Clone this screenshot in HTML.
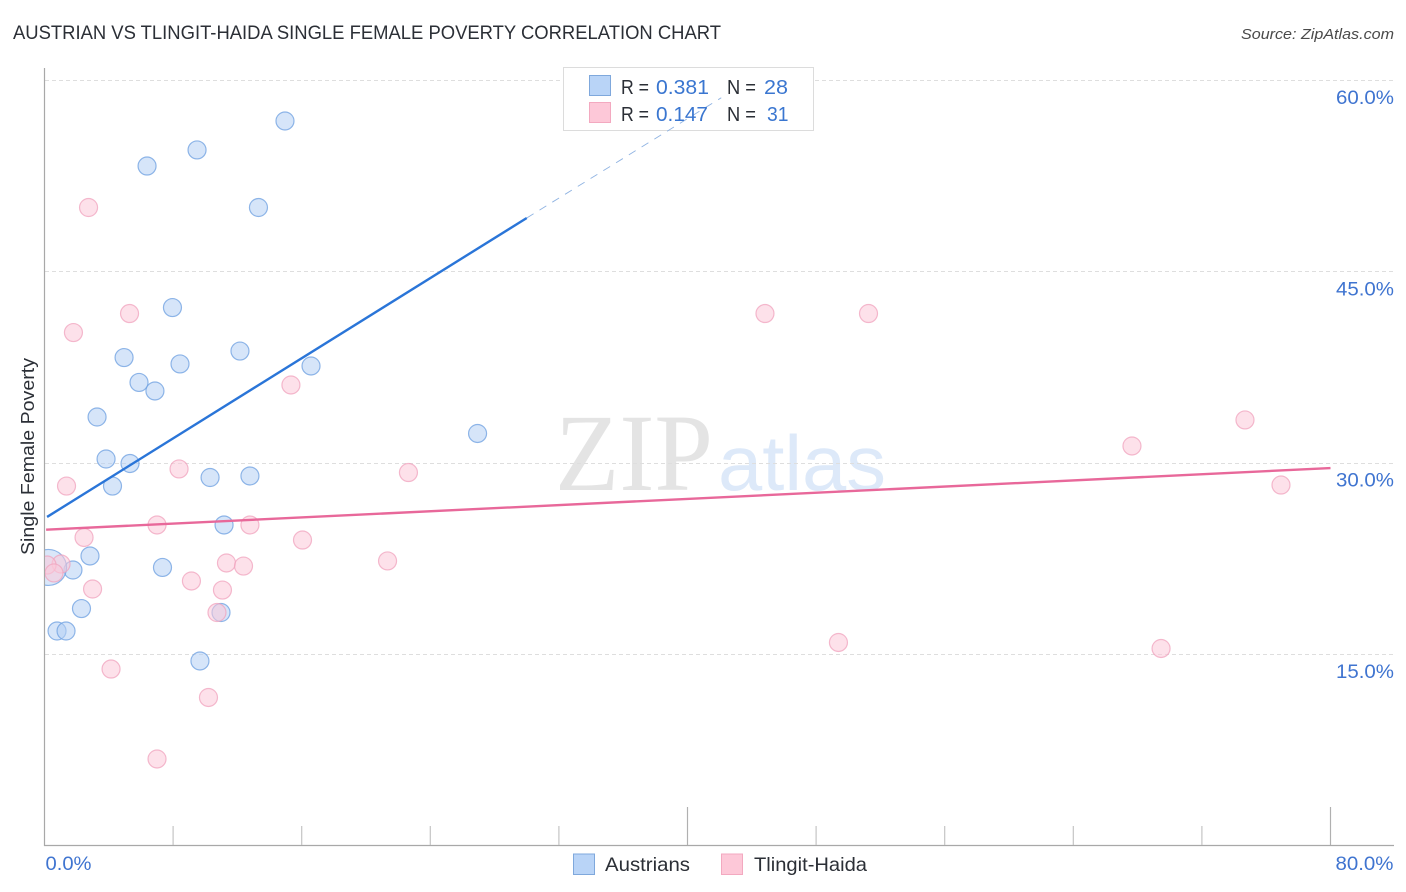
<!DOCTYPE html>
<html lang="en">
<head>
<meta charset="utf-8">
<title>Austrian vs Tlingit-Haida Single Female Poverty Correlation Chart</title>
<style>
html,body{margin:0;padding:0;background:#fff;}
svg{display:block;font-family:"Liberation Sans",sans-serif;}
</style>
</head>
<body>
<svg id="chart" xmlns="http://www.w3.org/2000/svg" width="1406" height="892" viewBox="0 0 1406 892">
  <rect x="0" y="0" width="1406" height="892" fill="#ffffff"/>
  <text x="555" y="490" font-family="'Liberation Serif',serif" font-size="110" fill="#e4e4e4" textLength="158" lengthAdjust="spacingAndGlyphs">ZIP</text>
  <text x="718" y="490" font-size="78" fill="#dde9f9" textLength="168" lengthAdjust="spacingAndGlyphs">atlas</text>
  <g id="grid"></g>
  <rect x="563.5" y="67.5" width="250" height="63" fill="#ffffff" stroke="#dcdcdc" stroke-width="1"/>
  <g id="axes"></g>
  <g id="points"></g>
  <g id="trends"></g>
  <g id="labels"></g>

  <text x="13" y="39" font-size="19" fill="#2b2f36" textLength="708" lengthAdjust="spacingAndGlyphs">AUSTRIAN VS TLINGIT-HAIDA SINGLE FEMALE POVERTY CORRELATION CHART</text>
  <text x="1394" y="39" font-size="15" font-style="italic" fill="#4a4a4a" text-anchor="end" textLength="153" lengthAdjust="spacingAndGlyphs">Source: ZipAtlas.com</text>
  <text transform="translate(34 555) rotate(-90)" font-size="18.5" fill="#2b2f36" textLength="197" lengthAdjust="spacingAndGlyphs">Single Female Poverty</text>

  <g font-size="20">
    <rect x="589.5" y="75.5" width="21" height="20" fill="#b9d4f7" stroke="#7fa8dc"/>
    <rect x="589.5" y="102.5" width="21" height="20" fill="#fdc8d8" stroke="#f3a9c0"/>
    <text x="621" y="94" fill="#2b2f36" textLength="28" lengthAdjust="spacingAndGlyphs">R =</text>
    <text x="656" y="94" fill="#3a76d0" textLength="53" lengthAdjust="spacingAndGlyphs">0.381</text>
    <text x="727" y="94" fill="#2b2f36" textLength="29" lengthAdjust="spacingAndGlyphs">N =</text>
    <text x="764" y="94" fill="#3a76d0" textLength="24" lengthAdjust="spacingAndGlyphs">28</text>
    <text x="621" y="121" fill="#2b2f36" textLength="28" lengthAdjust="spacingAndGlyphs">R =</text>
    <text x="656" y="121" fill="#3a76d0" textLength="52" lengthAdjust="spacingAndGlyphs">0.147</text>
    <text x="727" y="121" fill="#2b2f36" textLength="29" lengthAdjust="spacingAndGlyphs">N =</text>
    <text x="767" y="121" fill="#3a76d0" textLength="21.5" lengthAdjust="spacingAndGlyphs">31</text>
  </g>

  <g font-size="19.5" fill="#2b2f36">
    <rect x="573.5" y="854" width="21" height="20.5" fill="#b9d4f7" stroke="#7fa8dc"/>
    <text x="605" y="871" textLength="85" lengthAdjust="spacingAndGlyphs">Austrians</text>
    <rect x="721.5" y="854" width="21" height="20.5" fill="#fdc8d8" stroke="#f3a9c0"/>
    <text x="754" y="871" textLength="113" lengthAdjust="spacingAndGlyphs">Tlingit-Haida</text>
  </g>
</svg>
<script>
const austriansX = [14.96, 9.49, 6.38, 13.31, 7.96, 12.16, 4.95, 8.43, 16.58, 5.88, 6.87, 3.27, 26.94, 3.83, 5.32, 4.23, 10.30, 12.78, 11.17, 2.83, 7.34, 1.77, 2.30, 10.98, 0.78, 1.34, 9.67, 0.25];
const austriansY = [56.78, 54.51, 53.25, 50.00, 42.16, 38.75, 38.24, 37.74, 37.58, 36.29, 35.62, 33.58, 32.29, 30.29, 29.94, 28.17, 28.84, 28.96, 25.12, 22.69, 21.79, 21.59, 18.57, 18.26, 16.81, 16.81, 14.46, 21.79];
const austriansWeight = [1, 1, 1, 1, 1, 1, 1, 1, 1, 1, 1, 1, 1, 1, 1, 1, 1, 1, 1, 1, 1, 1, 1, 1, 1, 1, 1, 2];
const tlingitX = [2.74, 1.80, 5.29, 44.82, 51.26, 15.33, 74.68, 67.65, 8.37, 22.64, 1.37, 76.92, 7.00, 12.78, 2.46, 16.05, 21.34, 11.32, 12.38, 1.03, 0.16, 0.59, 9.14, 2.99, 11.07, 10.73, 49.39, 69.46, 4.14, 10.20, 7.00];
const tlingitY = [50.00, 40.20, 41.69, 41.69, 41.69, 36.09, 33.35, 31.31, 29.51, 29.23, 28.17, 28.25, 25.12, 25.12, 24.14, 23.94, 22.30, 22.14, 21.90, 22.06, 21.98, 21.36, 20.73, 20.10, 20.02, 18.26, 15.91, 15.44, 13.83, 11.60, 6.78];
const austriansTrendX = [0.16, 30.0, 42.1];
const austriansTrendY = [25.75, 49.18, 58.6];
const tlingitTrendX = [0.1, 80];
const tlingitTrendY = [24.75, 29.58];
const yTicks = [15, 30, 45, 60];
const yTickLabels = ["15.0%", "30.0%", "45.0%", "60.0%"];
const xTicks = [0, 8, 16, 24, 32, 40, 48, 56, 64, 72, 80];
const xEndTicks = [0, 80];
const xEndLabels = ["0.0%", "80.0%"];

const NS = "http://www.w3.org/2000/svg";
function xScale(v) { return 44.5 + v * 16.075; }
function yScale(v) { return 845.5 - v * 12.76; }
function make(parent, tag, attrs) {
  const el = document.createElementNS(NS, tag);
  for (const k in attrs) el.setAttribute(k, attrs[k]);
  document.getElementById(parent).appendChild(el);
  return el;
}

/* gridlines */
yTicks.forEach(function (t) {
  const el = make("grid", "line", { x1: 45, x2: 1394, y1: Math.round(yScale(t)) + 0.5, y2: Math.round(yScale(t)) + 0.5, stroke: "#dedede", "stroke-width": 1, "stroke-dasharray": "4 3" });
  
  
});

/* axes */
const yAxisLine = make("axes", "line", { x1: 44.5, x2: 44.5, y1: 68, y2: 846, stroke: "#a8a8a8", "stroke-width": 1.2 });


const xAxisLine = make("axes", "line", { x1: 44, x2: 1394, y1: 845.5, y2: 845.5, stroke: "#a8a8a8", "stroke-width": 1.2 });


xTicks.forEach(function (t) {
  const major = (t === 40 || t === 80);
  if (t === 0) return;
  const el = make("axes", "line", { x1: xScale(t), x2: xScale(t), y1: major ? 807 : 826, y2: 845, stroke: major ? "#b0b0b0" : "#c4c4c4", "stroke-width": 1.2 });
  
  
});

/* points */
function drawPoints(xs, ys, fill, stroke, name, weights) {
  xs.forEach(function (x, i) {
    const big = weights && weights[i] > 1;
    const c = make("points", "circle", {
      cx: xScale(x), cy: yScale(ys[i]), r: big ? 18 : 9,
      fill: fill, "fill-opacity": big ? 0.5 : 0.55, stroke: stroke, "stroke-opacity": 0.75, "stroke-width": 1.2,
      "clip-path": "url(#plot-clip)"
    });
    
    
  });
}
const defs = document.createElementNS(NS, "defs");
const clip = document.createElementNS(NS, "clipPath");
clip.setAttribute("id", "plot-clip");
const clipRect = document.createElementNS(NS, "rect");
clipRect.setAttribute("x", 45);
clipRect.setAttribute("y", 60);
clipRect.setAttribute("width", 1350);
clipRect.setAttribute("height", 786);
clip.appendChild(clipRect);
defs.appendChild(clip);
document.getElementById("chart").appendChild(defs);

drawPoints(austriansX, austriansY, "#b5d0f4", "#6c9fe0", "austrians-point", austriansWeight);
drawPoints(tlingitX, tlingitY, "#fcc9d9", "#f0a3bd", "tlingit-haida-point", null);

/* trends */
const blueSolid = make("trends", "line", { x1: xScale(austriansTrendX[0]), y1: yScale(austriansTrendY[0]), x2: xScale(austriansTrendX[1]), y2: yScale(austriansTrendY[1]), stroke: "#2a75d8", "stroke-width": 2.4 });


const blueDash = make("trends", "line", { x1: xScale(austriansTrendX[1]), y1: yScale(austriansTrendY[1]), x2: xScale(austriansTrendX[2]), y2: yScale(austriansTrendY[2]), stroke: "#8fb3e2", "stroke-width": 0.9, "stroke-dasharray": "8 7" });


const pinkLine = make("trends", "line", { x1: xScale(tlingitTrendX[0]), y1: yScale(tlingitTrendY[0]), x2: xScale(tlingitTrendX[1]), y2: yScale(tlingitTrendY[1]), stroke: "#e8689a", "stroke-width": 2.4 });



/* tick labels */
yTicks.forEach(function (t, i) {
  const el = make("labels", "text", { x: 1394, y: yScale(t) + 24, "font-size": 19.5, fill: "#3f74d0", "text-anchor": "end", textLength: 58, lengthAdjust: "spacingAndGlyphs" });
  el.textContent = yTickLabels[i];
  
  
});
xEndTicks.forEach(function (t, i) {
  const first = i === 0;
  const el = make("labels", "text", { x: first ? xScale(t) + 1 : xScale(t) + 63, y: 870, "font-size": 19.5, fill: "#3f74d0", "text-anchor": first ? "start" : "end", textLength: first ? 46 : 58, lengthAdjust: "spacingAndGlyphs" });
  el.textContent = xEndLabels[i];
  
  
});
</script>
</body>
</html>
